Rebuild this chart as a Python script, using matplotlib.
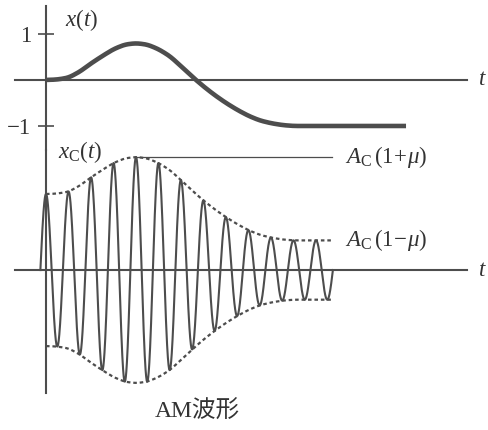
import numpy as np
import matplotlib.pyplot as plt

plt.rcParams['mathtext.fontset'] = 'custom'
plt.rcParams['mathtext.rm'] = 'Liberation Serif'
plt.rcParams['mathtext.it'] = 'Liberation Serif:italic'
plt.rcParams['font.family'] = ['Liberation Serif', 'Noto Sans CJK SC']

# message x(t) (t in carrier periods)
t_msg = [0, 0.5, 1, 1.5, 2, 2.5, 3, 3.5, 4, 4.5, 5, 5.5, 6, 6.5, 7, 7.5,
         8, 8.5, 9, 9.5, 10, 10.5, 11, 12, 13, 14, 15, 16]
x_msg = [0, 0.01, 0.05, 0.18, 0.36, 0.52, 0.67, 0.77, 0.80, 0.77, 0.67, 0.52,
         0.30, 0.07, -0.14, -0.33, -0.50, -0.65, -0.78, -0.88, -0.94, -0.98,
         -1.0, -1.0, -1.0, -1.0, -1.0, -1.0]

Ac = 1.0      # carrier amplitude
mu = 0.61     # modulation index
t_start, t_end = -0.25, 12.75   # carrier drawn between these
env_end = 12.76
ref_line_end = 12.71

col = '#4d4d4d'
tcol = '#333333'
fs = 16.5


def msg(tt):
    # dense linear lookup, lightly smoothed so the corners don't show
    x = np.interp(tt, t_msg, x_msg)
    k = 15
    pad = np.pad(x, k, mode='edge')
    return np.convolve(pad, np.ones(2 * k + 1) / (2 * k + 1), mode='same')[k:-k]


fig = plt.figure(figsize=(4.88, 4.30), dpi=100)
xlim = (-1.378, 18.71)
ax1 = fig.add_axes([15 / 488, 0.6512, 452 / 488, 0.3349])
ax2 = fig.add_axes([15 / 488, 0.0860, 452 / 488, 0.5651])

for ax in (ax1, ax2):
    ax.set_xlim(xlim)
    ax.patch.set_alpha(0)
    ax.spines['top'].set_visible(False)
    ax.spines['right'].set_visible(False)
    ax.spines['left'].set_position(('data', 0))
    ax.spines['bottom'].set_position(('data', 0))
    for s in ('left', 'bottom'):
        ax.spines[s].set_color(col)
        ax.spines[s].set_linewidth(1.5)
    ax.set_xticks([])

ax1.set_ylim(-1.522, 1.609)
ax2.set_ylim(-1.618, 1.579)
ax2.set_yticks([])
ax1.set_yticks([1, -1])
ax1.set_yticklabels(['1', '\u22121'], fontsize=fs, color=tcol)
ax1.tick_params(axis='y', direction='inout', length=11.5, width=1.2,
                color=col, pad=5)

# top: message signal
tm = np.linspace(0, t_msg[-1], 1200)
ax1.plot(tm, msg(tm), color=col, lw=3.3, solid_capstyle='butt')
ax1.text(1.56, 1.30, r'$x(t)$', fontsize=fs, color=tcol, ha='center', va='center')
ax1.text(19.38, 0, r'$t$', fontsize=fs, color=tcol, ha='center', va='center',
         clip_on=False)

# bottom: AM waveform
t = np.linspace(t_start, t_end, 3000)
env = Ac * (1 + mu * msg(t))
xc = env * np.cos(2 * np.pi * t)
ax2.plot(t, xc, color=col, lw=1.5)

te = np.linspace(0, env_end, 1000)
env_e = Ac * (1 + mu * msg(te))
ax2.plot(te, env_e, color=col, lw=1.6, ls=(0, (1.6, 1.3)))
ax2.plot(te, -env_e, color=col, lw=1.6, ls=(0, (1.6, 1.3)))

i_pk = int(np.argmax(env_e))
env_pk = env_e[i_pk]
ax2.plot([te[i_pk], ref_line_end], [env_pk, env_pk], color=col, lw=0.9)

ax2.text(13.29, env_pk, r'$A_{\mathrm{C}}\,(1\!+\!\mu)$', fontsize=fs, color=tcol,
         ha='left', va='center', clip_on=False)
ax2.text(13.29, Ac * (1 - mu), r'$A_{\mathrm{C}}\,(1\!-\!\mu)$', fontsize=fs,
         color=tcol, ha='left', va='center', clip_on=False)
ax2.text(1.51, 1.55, r'$x_{\mathrm{C}}(t)$', fontsize=fs, color=tcol,
         ha='center', va='center', clip_on=False)
ax2.text(19.38, 0, r'$t$', fontsize=fs, color=tcol, ha='center', va='center',
         clip_on=False)

fig.text(197 / 488, 1 - 412 / 430, 'AM波形', fontsize=17, color=tcol,
         ha='center', va='center')

fig.savefig('out.png', dpi=100)
